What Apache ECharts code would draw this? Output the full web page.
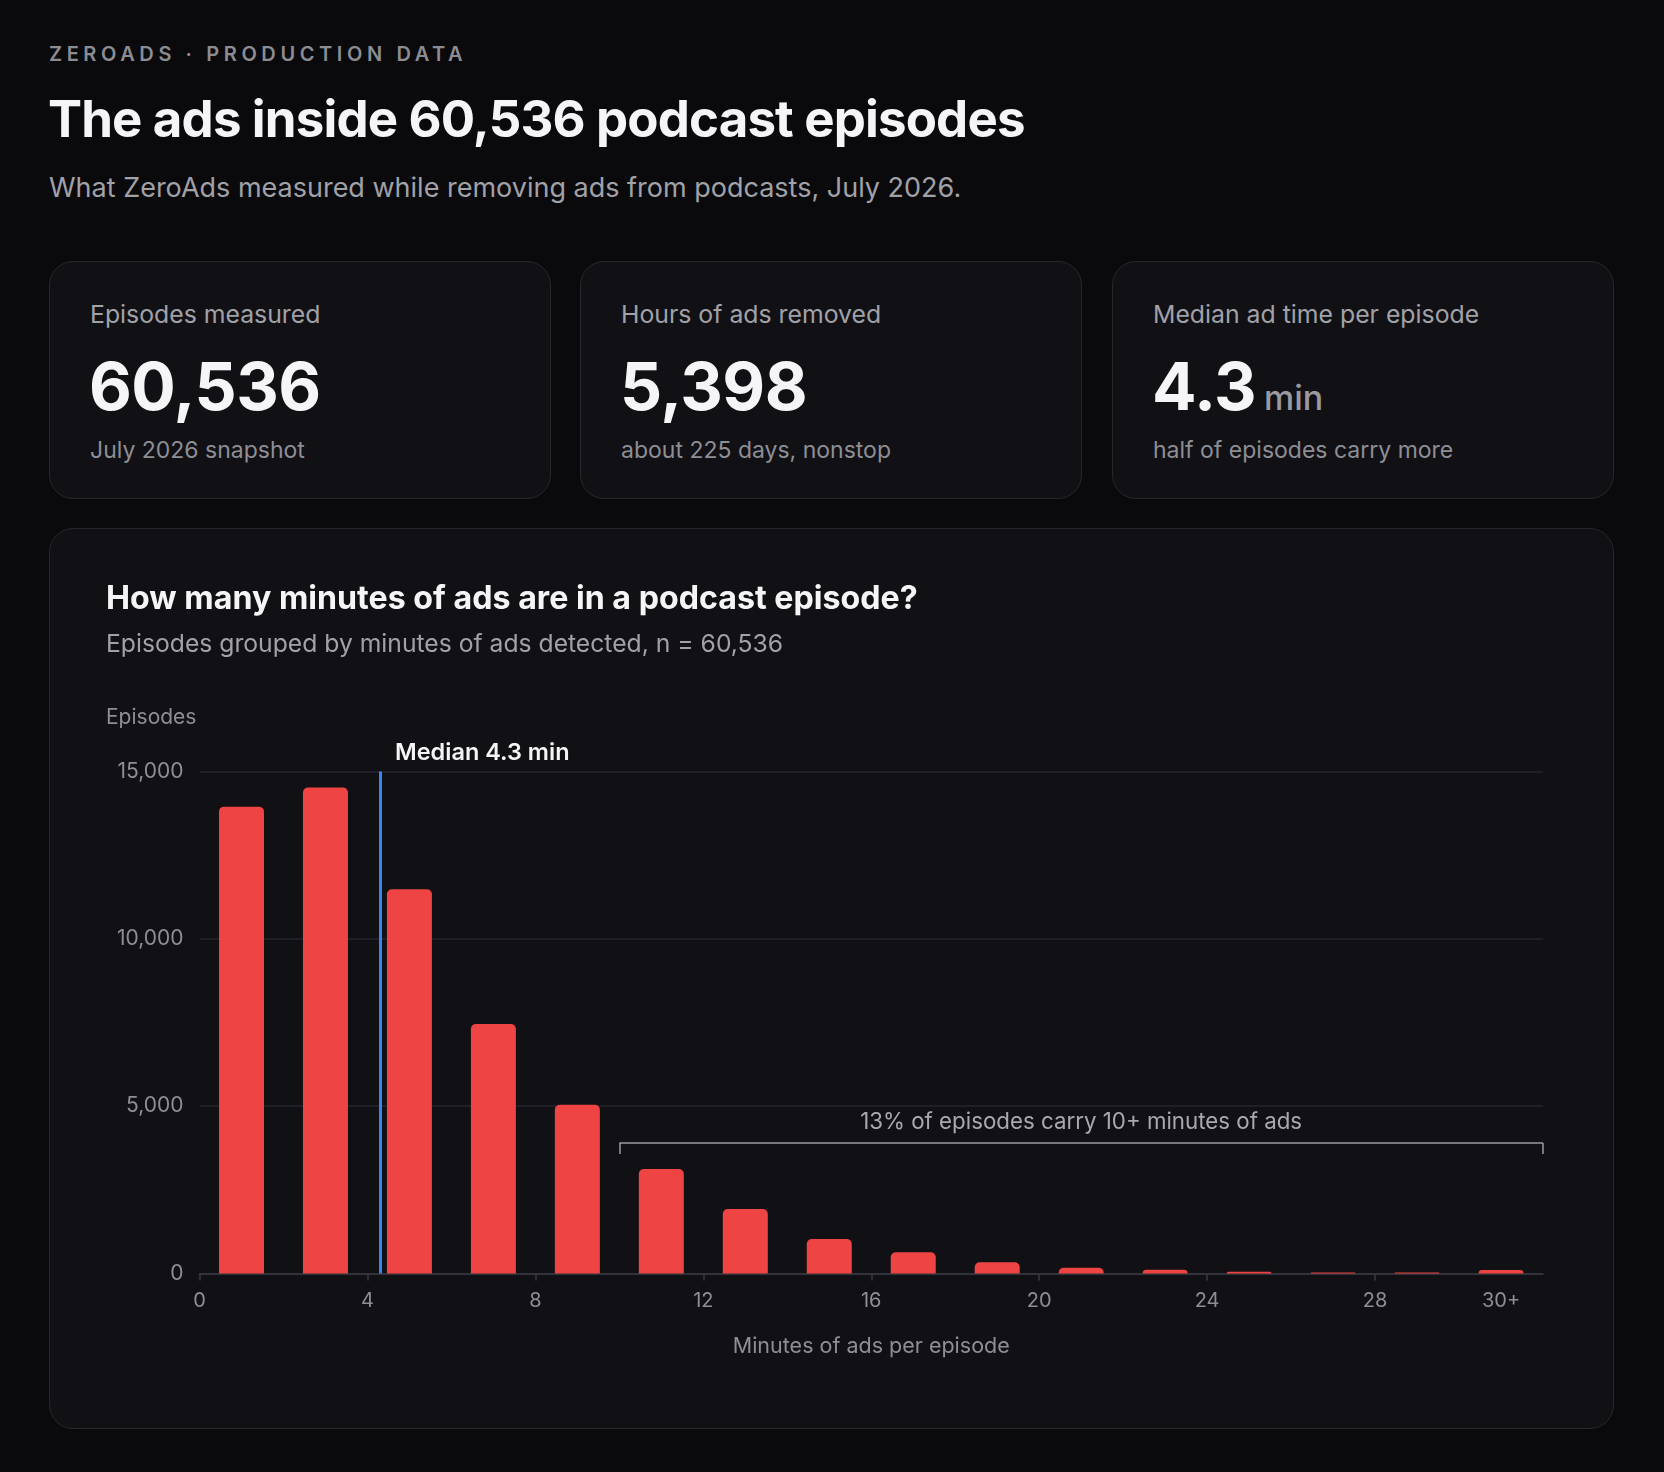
<!DOCTYPE html>
<html>
<head>
<meta charset="utf-8">
<script src="https://cdn.jsdelivr.net/npm/echarts@6/dist/echarts.min.js"></script>
<style>
  html, body { margin: 0; padding: 0; background: #0a0a0c; }
  body { width: 1664px; height: 1472px; position: relative; font-family: Inter, "Noto Sans", sans-serif; overflow: hidden; }
  .abs { position: absolute; white-space: nowrap; }
  .kicker { left: 49px; top: 42px; line-height: 24px; font-size: 20px; font-weight: 600; letter-spacing: 4.6px; color: #8c8c93; }
  .title { left: 48px; top: 88px; line-height: 62px; font-size: 51px; font-weight: 700; letter-spacing: -0.85px; color: #f5f5f7; }
  .sub { left: 49px; top: 172px; line-height: 32px; font-size: 27px; color: #a1a1a8; }
  .card { position: absolute; top: 261px; width: 502px; height: 238px; box-sizing: border-box; border: 1.5px solid #26262c; border-radius: 24px; background: #111115; }
  .card .lab { left: 40px; top: 37px; line-height: 30px; font-size: 24.8px; color: #a1a1a8; }
  .card .num { left: 39px; top: 84px; line-height: 80px; font-size: 66px; font-weight: 700; color: #f5f5f7; letter-spacing: -0.5px; }
  .card .num span { font-size: 34px; font-weight: 500; color: #9a9aa1; margin-left: 8px; letter-spacing: 0; }
  .card .note { left: 40px; top: 174px; line-height: 28px; font-size: 23px; color: #8e8e95; }
  #panel { position: absolute; left: 49px; top: 528px; width: 1565px; height: 901px; box-sizing: border-box; border: 1.5px solid #26262c; border-radius: 24px; background: #111115; }
  #chart { position: absolute; left: -1.5px; top: -1.5px; width: 1565px; height: 901px; }
</style>
</head>
<body>
<div class="abs kicker">ZEROADS · PRODUCTION DATA</div>
<div class="abs title">The ads inside 60,536 podcast episodes</div>
<div class="abs sub">What ZeroAds measured while removing ads from podcasts, July 2026.</div>

<div class="card" style="left:49px">
  <div class="abs lab">Episodes measured</div>
  <div class="abs num">60,536</div>
  <div class="abs note">July 2026 snapshot</div>
</div>
<div class="card" style="left:580px">
  <div class="abs lab">Hours of ads removed</div>
  <div class="abs num">5,398</div>
  <div class="abs note">about 225 days, nonstop</div>
</div>
<div class="card" style="left:1112px">
  <div class="abs lab">Median ad time per episode</div>
  <div class="abs num">4.3<span>min</span></div>
  <div class="abs note">half of episodes carry more</div>
</div>

<div id="panel"><div id="chart"></div></div>

<script>
// bins of 2 minutes, bar drawn at bin centre; last bin is 30+
var binCentres = [1, 3, 5, 7, 9, 11, 13, 15, 17, 19, 21, 23, 25, 27, 29, 31];
var episodeCounts = [13950, 14520, 11480, 7450, 5040, 3120, 1925, 1030, 630, 330, 170, 110, 50, 25, 25, 100];
var xLabelValues = [0, 4, 8, 12, 16, 20, 24, 28, 31];
var xLabelTexts = ['0', '4', '8', '12', '16', '20', '24', '28', '30+'];
var xTickValues = [0, 4, 8, 12, 16, 20, 24, 28];
var yTicks = [0, 5000, 10000, 15000];
var medianMinutes = 4.3;
var tailStart = 10, tailEnd = 32, bracketY = 3900, bracketDrop = 330;

var barData = [];
for (var i = 0; i < binCentres.length; i++) {
	barData.push([binCentres[i], episodeCounts[i]]);
}
var yTop = yTicks[yTicks.length - 1];

var gray = '#8e8e95';
var e = echarts.init(document.getElementById('chart')),
a = {
	backgroundColor: 'transparent',
	animation: false,
	textStyle: { fontFamily: 'Inter' },
	title: [{
		text: 'How many minutes of ads are in a podcast episode?',
		left: 52, top: 46,
		textStyle: { color: '#f5f5f7', fontSize: 32.2, fontWeight: 700, lineHeight: 40 }
	}, {
		text: 'Episodes grouped by minutes of ads detected, n = 60,536',
		left: 52, top: 97,
		textStyle: { color: '#a1a1a8', fontSize: 24.7, fontWeight: 400, lineHeight: 30 }
	}, {
		text: 'Episodes',
		left: 52, top: 171,
		textStyle: { color: gray, fontSize: 21, fontWeight: 400, lineHeight: 28 }
	}],
	grid: { left: 150.5, right: 71, top: 243.5, bottom: 155.6 },
	xAxis: {
		type: 'value',
		min: 0, max: 32, interval: 4,
		name: 'Minutes of ads per episode',
		nameLocation: 'middle',
		nameGap: 62,
		nameTextStyle: { color: gray, fontSize: 21.5 },
		axisLine: { show: true, lineStyle: { color: '#3a3a41', width: 1.5 } },
		axisTick: { show: true, length: 7, customValues: xTickValues, lineStyle: { color: '#3a3a41', width: 1.5 } },
		axisLabel: {
			color: gray, fontSize: 20, margin: 18,
			customValues: xLabelValues,
			formatter: function (v) {
				var k = xLabelValues.indexOf(v);
				return k >= 0 ? xLabelTexts[k] : '';
			}
		},
		splitLine: { show: false }
	},
	yAxis: {
		type: 'value',
		min: yTicks[0], max: yTop, interval: 5000,
		axisLine: { show: false },
		axisTick: { show: false },
		axisLabel: {
			color: gray, fontSize: 21, margin: 16,
			formatter: function (v) { return v.toLocaleString('en-US'); }
		},
		splitLine: { lineStyle: { color: '#25252b', width: 1.5 } }
	},
	series: [{
		type: 'bar',
		data: barData,
		barWidth: 45,
		itemStyle: { color: '#ef4444', borderRadius: [5, 5, 0, 0] },
		markLine: {
			silent: true,
			symbol: 'none',
			label: { show: false },
			data: [
				[{ coord: [medianMinutes, 0], lineStyle: { color: '#3b82f6', width: 3, type: 'solid' } }, { coord: [medianMinutes, yTop] }],
				[{ coord: [tailStart, bracketY], lineStyle: { color: '#9a9aa1', width: 1.5, type: 'solid' } }, { coord: [tailEnd, bracketY] }],
				[{ coord: [tailStart, bracketY], lineStyle: { color: '#9a9aa1', width: 1.5, type: 'solid' } }, { coord: [tailStart, bracketY - bracketDrop] }],
				[{ coord: [tailEnd, bracketY], lineStyle: { color: '#9a9aa1', width: 1.5, type: 'solid' } }, { coord: [tailEnd, bracketY - bracketDrop] }]
			]
		},
		markPoint: {
			silent: true,
			symbol: 'circle',
			symbolSize: 0,
			data: [{
				coord: [medianMinutes, yTop],
				label: { show: true, position: 'right', distance: 15, offset: [0, -19], formatter: 'Median 4.3 min', color: '#f5f5f7', fontSize: 23.5, fontWeight: 600 }
			}, {
				coord: [(tailStart + tailEnd) / 2, bracketY],
				label: { show: true, position: 'top', distance: 10, formatter: '13% of episodes carry 10+ minutes of ads', color: '#a8a8af', fontSize: 22.3 }
			}]
		}
	}]
};
e.setOption(a);
</script>
</body>
</html>
